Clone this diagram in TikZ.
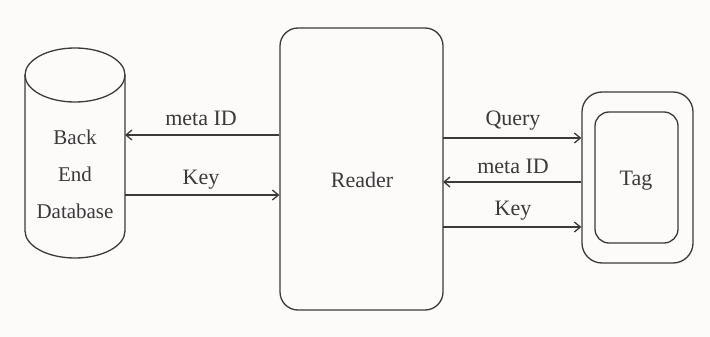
\documentclass[tikz,border=0pt]{standalone}
\usepackage{fontspec}
\setmainfont{Liberation Serif}
\usetikzlibrary{arrows.meta}
\definecolor{ink}{HTML}{3A3A3A}
\definecolor{bg}{HTML}{FDFAFA}
\begin{document}
\begin{tikzpicture}[x=1pt,y=-1pt,
  line width=1.3pt, draw=ink,
  lbl/.style={text=ink,font=\fontsize{22}{25}\selectfont,inner sep=0pt,anchor=center},
  conn/.style={draw=ink,-{Straight Barb[length=6pt,width=10pt]}},
  box/.style={draw=ink,rounded corners=18pt}]
\fill[bg] (0,0) rectangle (710,337);
\useasboundingbox (0,0) rectangle (710,337);
% database cylinder
\draw[ink] (25,75) -- (25,231) arc[start angle=180,end angle=0,x radius=50,y radius=27] -- (125,75);
\draw[ink] (75,75) ellipse[x radius=50,y radius=27];
\node[lbl,align=center,font=\fontsize{21}{37}\selectfont] (db) at (75,174) {Back\\End\\Database};
\coordinate (dbR1) at (125,135);
\coordinate (dbR2) at (125,195);
% reader
\node[box,minimum width=163pt,minimum height=282pt,inner sep=0pt] (rd) at (361.5,169) {};
\node[lbl] (rdt) at (362,180) {Reader};
% tag
\node[box,rounded corners=20pt,minimum width=111pt,minimum height=171pt,inner sep=0pt] (tag) at (637.5,177.5) {};
\node[box,rounded corners=14pt,minimum width=83pt,minimum height=131pt,inner sep=0pt] (tagi) at (636.5,177.5) {};
\node[lbl] (tagt) at (636,181) {Tag};
% arrows left
\draw[conn] (rd.west |- dbR1) -- (dbR1);
\node[lbl] (l1) at (201,118) {meta ID};
\draw[conn] (dbR2) -- (rd.west |- dbR2);
\node[lbl] (l2) at (201,180) {Key};
% arrows right
\coordinate (q) at (443,138);
\coordinate (m) at (443,182);
\coordinate (k) at (443,227);
\draw[conn] (q) -- (tag.west |- q);
\node[lbl] (l3) at (513,121) {Query};
\draw[conn] (tag.west |- m) -- (m);
\node[lbl] (l4) at (513,166) {meta ID};
\draw[conn] (k) -- (tag.west |- k);
\node[lbl] (l5) at (513,211) {Key};
\end{tikzpicture}
\end{document}
